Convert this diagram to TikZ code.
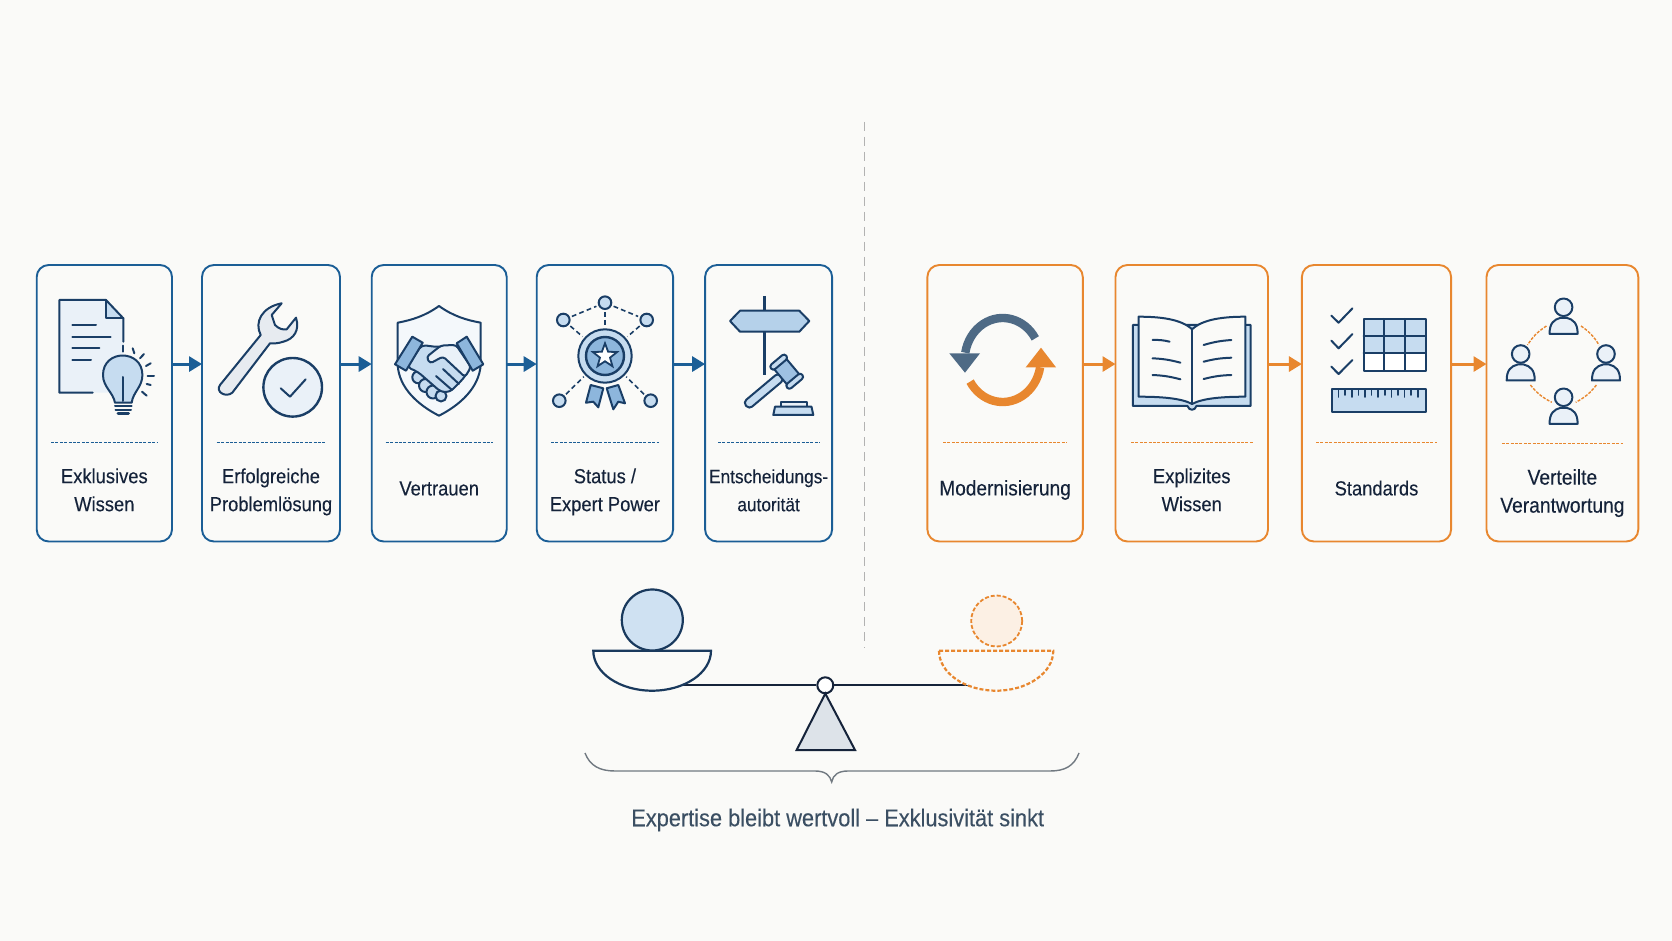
\documentclass[tikz,border=0pt]{standalone}
\usepackage{fontspec}
\setmainfont{Liberation Sans}[FakeStretch=0.9,FakeBold=0.2]
\usetikzlibrary{arrows.meta,positioning,shapes.geometric}
\definecolor{paper}{HTML}{FAFAF8}
\definecolor{blue}{HTML}{1B5E96}
\definecolor{navy}{HTML}{1A3E66}
\definecolor{ink}{HTML}{15233A}
\definecolor{orange}{HTML}{E8872F}
\definecolor{slate}{HTML}{4E6A85}
\definecolor{capt}{HTML}{3B4F63}
\definecolor{pale}{HTML}{EAF1F8}
\definecolor{soft}{HTML}{C6DCF0}
\definecolor{mid}{HTML}{8DB6DC}
\definecolor{peach}{HTML}{FCF0E4}
\definecolor{cone}{HTML}{DDE3E9}

\begin{document}
\begin{tikzpicture}[x=0.5pt,y=-0.5pt,
  every node/.style={align=center},
  bluebox/.style={draw=blue,line width=0.95pt,rounded corners=6pt,outer sep=0pt,
                  minimum height=138.25pt,anchor=north west},
  orgbox/.style={draw=orange,line width=0.95pt,rounded corners=6pt,outer sep=0pt,
                 minimum height=138.25pt,anchor=north west},
  lab/.style={text=ink,font=\fontsize{10.2}{14}\selectfont},
  bluearr/.style={-{Triangle[length=6.5pt,width=7.5pt]},line width=1.5pt,blue},
  orgarr/.style={-{Triangle[length=6.5pt,width=7.5pt]},line width=1.5pt,orange},
  bluerule/.style={blue,line width=0.55pt,dash pattern=on 1.5pt off 0.7pt},
  orgrule/.style={orange,line width=0.55pt,dash pattern=on 1.5pt off 0.7pt},
  ico/.style={navy,line width=1pt,line join=round,line cap=round},
  dot/.style={circle,draw=navy,line width=1pt,fill=soft,inner sep=0pt,minimum size=6.3pt},
  link/.style={navy,line width=0.8pt,dash pattern=on 2.4pt off 1.6pt,shorten >=1pt,shorten <=1pt},
  person/.pic={
    \draw[ico,fill=pale] (0,0) circle[radius=8.8];
    \draw[ico,fill=pale] (-14,26.5) .. controls (-14.2,16) and (-9.5,12) .. (-3,10.5) -- (3,10.5)
      .. controls (9.5,12) and (14.2,16) .. (14,26.5) -- cycle;
  }
]
\fill[paper] (0,0) rectangle (1672,941);
\useasboundingbox (0,0) rectangle (1672,941);

\node[bluebox,minimum width=67.65pt] (box1) at (36.7,265) {};
\node[bluebox,minimum width=69pt,right=15pt of box1.north east,anchor=north west] (box2) {};
\node[bluebox,minimum width=67.5pt,right=15.85pt of box2.north east,anchor=north west] (box3) {};
\node[bluebox,minimum width=68.2pt,right=15pt of box3.north east,anchor=north west] (box4) {};
\node[bluebox,minimum width=63.5pt,right=16pt of box4.north east,anchor=north west] (box5) {};
\node[orgbox,minimum width=77.7pt,right=47.65pt of box5.north east,anchor=north west] (box6) {};
\node[orgbox,minimum width=76.25pt,right=16.35pt of box6.north east,anchor=north west] (box7) {};
\node[orgbox,minimum width=74.6pt,right=16.95pt of box7.north east,anchor=north west] (box8) {};
\node[orgbox,minimum width=75.9pt,right=17.7pt of box8.north east,anchor=north west] (box9) {};

\draw[bluearr] ([yshift=19.6pt]box1.east)--([yshift=19.6pt]box2.west);
\draw[bluearr] ([yshift=19.6pt]box2.east)--([yshift=19.6pt]box3.west);
\draw[bluearr] ([yshift=19.6pt]box3.east)--([yshift=19.6pt]box4.west);
\draw[bluearr] ([yshift=19.6pt]box4.east)--([yshift=19.6pt]box5.west);
\draw[orgarr] ([yshift=19.6pt]box6.east)--([yshift=19.6pt]box7.west);
\draw[orgarr] ([yshift=19.6pt]box7.east)--([yshift=19.6pt]box8.west);
\draw[orgarr] ([yshift=19.6pt]box8.east)--([yshift=19.6pt]box9.west);

\draw[bluerule] (51,442.5)--(157.7,442.5);
\draw[bluerule] (216.7,442.5)--(326,442.5);
\draw[bluerule] (385.7,442.5)--(493,442.5);
\draw[bluerule] (551,442.5)--(659,442.5);
\draw[bluerule] (718,442.7)--(820,442.7);
\draw[orgrule] (943,442.5)--(1066.7,442.5);
\draw[orgrule] (1131,442.5)--(1252.9,442.5);
\draw[orgrule] (1316,442.5)--(1436.8,442.5);
\draw[orgrule] (1501.8,443.7)--(1623.2,443.7);

\node[lab] (lab1) at (box1 |- 0,491.6) {Exklusives\strut\\Wissen\strut};
\node[lab] (lab2) at (box2 |- 0,491.6) {Erfolgreiche\strut\\Problemlösung\strut};
\node[lab] (lab3) at (box3 |- 0,489.8) {Vertrauen\strut};
\node[lab] (lab4) at (box4 |- 0,491.6) {Status /\strut\\Expert Power\strut};
\node[lab,font=\fontsize{9.6}{14}\selectfont] (lab5) at (box5 |- 0,491.6) {Entscheidungs-\strut\\autorität\strut};
\node[lab,font=\fontsize{10.6}{14}\selectfont] (lab6) at (box6 |- 0,489.8) {Modernisierung\strut};
\node[lab] (lab7) at (box7 |- 0,491.6) {Explizites\strut\\Wissen\strut};
\node[lab] (lab8) at (box8 |- 0,489.8) {Standards\strut};
\node[lab,font=\fontsize{10.7}{14}\selectfont] (lab9) at (box9 |- 0,493) {Verteilte\strut\\Verantwortung\strut};

% document and bulb
\fill[pale] (59.3,300)--(106,300)--(123.3,318.3)--(123.3,392.7)--(59.3,392.7)--cycle;
\fill[soft] (106,300)--(123.3,318.3)--(106,318.3)--cycle;
\draw[ico] (92.7,392.7)--(59.3,392.7)--(59.3,300)--(106,300)--(123.3,318.3)--(123.3,341.7);
\draw[ico] (106,300)--(106,318.3)--(123.3,318.3);
\draw[ico] (72.3,325)--(96,325);
\draw[ico] (72.3,336.7)--(110.7,336.7);
\draw[ico] (72.3,348.3)--(99.3,348.3);
\draw[ico] (72.3,360)--(91,360);
\draw[ico,fill=soft] (115,402.7) .. controls (113,392) and (103,387) .. (103,375)
  .. controls (103,349) and (142.4,349) .. (142.4,375) .. controls (142.4,387) and (133,392) .. (131.7,402.7)--cycle;
\draw[ico] (123.3,377)--(123.3,401);
\draw[ico] (115,406)--(131.7,406);
\draw[ico] (115.5,410)--(131,410);
\draw[ico,line width=1.5pt] (118,414)--(128.5,414);
\draw[ico] (123.3,345.7)--(123.3,351.7);
\draw[ico] (132.7,348.3)--(134.3,353.3);
\draw[ico] (144,354)--(140,358.3);
\draw[ico] (150.7,363.3)--(146,366);
\draw[ico] (154,375.7)--(147.7,375.7);
\draw[ico] (150.7,385)--(146.7,384);
\draw[ico] (146.7,395.7)--(142,391.7);

% wrench
\draw[ico,fill=cone!70!white] (220,385)--(260.7,335) .. controls (254,322) and (262,307) .. (281.7,303.3)
  --(271.7,315)--(275,325) .. controls (279,329) and (283,330) .. (286.7,329.3)--(296,317.7)
  .. controls (300,330) and (294,339) .. (283.3,341.7) .. controls (278,343.5) and (274,343.5) .. (270,343.3)
  --(232.3,392.7) .. controls (226,398) and (215,392) .. (220,385)--cycle;
\node[circle,draw=navy,line width=1.2pt,fill=pale,inner sep=0pt,minimum size=29.3pt] (okring) at (292.7,387.3) {};
\draw[ico] (280.7,388.3)--(290,396.7)--(305.7,379.3);

% shield and handshake
\draw[ico,fill=pale!50!white] (439,306) .. controls (425,316) and (412,320) .. (397.7,322.7)--(397.7,365)
  .. controls (399,388) and (418,405) .. (439,415.7) .. controls (460,405) and (479,388) .. (480.7,365)
  --(480.7,322.7) .. controls (466,320) and (453,316) .. (439,306)--cycle;
\draw[ico,fill=soft] (418.3,377.3) circle[radius=6];
\draw[ico,fill=soft] (425.5,385.5) circle[radius=6.5];
\draw[ico,fill=soft] (433,392) circle[radius=6.5];
\draw[ico,fill=soft] (441,396) circle[radius=5.5];
\draw[ico,fill=soft,rounded corners=2pt] (421.7,345)--(437,347)--(456,345)--(471,367)--(463,379)--(450,392)--(441,392)--(418,372)--(407,367)--cycle;
\draw[ico,fill=pale,rounded corners=1.5pt] (456,345)--(441,345.5)--(426.5,357)--(430,363.5)--(443,356.5)--(465,377)--(471,367)--cycle;
\draw[ico] (459,384)--(443,369);
\draw[ico] (452,390)--(436,376);
\draw[ico,fill=mid] (412.3,336.7)--(422.7,342.7)--(406,370.7)--(395,364.3)--cycle;
\draw[ico,fill=mid] (466.7,336.7)--(456.7,343.3)--(472.7,370.7)--(483.3,364.3)--cycle;

% badge and network
\node[dot] (net1) at (605,302.7) {};
\node[dot] (net2) at (563.3,320) {};
\node[dot] (net3) at (646.7,320) {};
\node[dot] (net4) at (559.3,400.7) {};
\node[dot] (net5) at (650.7,400.7) {};
\draw[ico,fill=mid] (590.7,385)--(603.3,388.3)--(598.3,407.3)--(593.3,401.7)--(586,402.7)--cycle;
\draw[ico,fill=mid] (606.7,388.3)--(618.3,385)--(625,403.3)--(618.3,401.7)--(613.3,409.3)--cycle;
\node[circle,draw=navy,line width=1pt,fill=soft,inner sep=0pt,minimum size=26.7pt] (medal) at (605,356) {};
\node[circle,draw=navy,line width=1.2pt,fill=mid,inner sep=0pt,minimum size=19pt] at (medal) {};
\node[star,star points=5,star point ratio=2.4,draw=navy,line width=0.9pt,fill=white,inner sep=0pt,minimum size=12.7pt] at (medal) {};
\draw[link] (net2)--(net1);
\draw[link] (net1)--(net3);
\draw[link] (net1)--(medal);
\draw[link] (net2)--(medal);
\draw[link] (net3)--(medal);
\draw[link] (net4)--(medal);
\draw[link] (net5)--(medal);

% signpost and gavel
\draw[navy,line width=1.7pt] (764.7,296)--(764.7,375);
\draw[ico,fill=soft!70!mid] (730,321)--(740,310.7)--(799.3,310.7)--(809.3,321)--(799.3,331.7)--(740,331.7)--cycle;
\begin{scope}[shift={(786.7,371.7)},rotate=40]
  \draw[ico,fill=soft,rounded corners=2pt] (-53,-4.5) rectangle (-7,4.5);
  \draw[ico,fill=mid!70!soft] (-8,-11) rectangle (8,11);
  \draw[ico,fill=soft,rounded corners=1.5pt] (-10,-15.5) rectangle (10,-9.5);
  \draw[ico,fill=soft,rounded corners=1.5pt] (-10,9.5) rectangle (10,15.5);
\end{scope}
\draw[ico,fill=pale] (781,406.7)--(781,401.7)--(807.3,401.7)--(807.3,406.7);
\draw[ico,fill=soft] (773.3,415)--(775,406.7)--(811.5,406.7)--(813.3,415)--cycle;

% cycle arrows
\draw[slate,line width=4.2pt] (1002.7,360) ++(-31:38 and 42) arc[start angle=-31,end angle=-170,x radius=38,y radius=42];
\fill[slate] (949.3,353.3)--(980,353.3)--(965,372.7)--cycle;
\draw[orange,line width=4.2pt] (1002.7,360) ++(149:38 and 42) arc[start angle=149,end angle=10,x radius=38,y radius=42];
\fill[orange] (1025.7,367.3)--(1056,367.3)--(1041,347.7)--cycle;

% book
\draw[ico,fill=soft] (1132.9,325)--(1132.9,406)--(1187.5,406) .. controls (1189,411) and (1195,411) .. (1196.4,406)--(1250.7,406)--(1250.7,325)--cycle;
\draw[ico,fill=paper] (1192.1,329.3) .. controls (1181,319) and (1160,316.7) .. (1138.6,316.7)--(1138.6,396.7)
  .. controls (1160,396.7) and (1181,398) .. (1192.1,404) .. controls (1203,398) and (1224,396.7) .. (1245.4,396.7)
  --(1245.4,316.7) .. controls (1224,316.7) and (1203,319) .. (1192.1,329.3)--cycle;
\draw[ico] (1192.1,329.3)--(1192.1,404);
\draw[ico] (1152.5,340) to[bend left=8] (1169.6,341.7);
\draw[ico] (1152.5,358.3) to[bend left=6] (1180.4,362.7);
\draw[ico] (1152.5,375) to[bend left=6] (1180.4,379.3);
\draw[ico] (1203.6,345) to[bend left=6] (1231.4,340);
\draw[ico] (1203.6,361.7) to[bend left=6] (1231.4,357.7);
\draw[ico] (1203.6,379) to[bend left=6] (1231.4,375);

% checks, table and ruler
\draw[ico] (1331.4,315.7)--(1338.6,322.7)--(1352.5,308.3);
\draw[ico] (1331.4,340.7)--(1338.6,348.3)--(1352.5,334);
\draw[ico] (1331.4,366.7)--(1338.6,374)--(1352.5,360);
\fill[soft] (1363.6,319) rectangle (1425.7,353.5);
\fill[white] (1363.6,353.5) rectangle (1425.7,370.7);
\draw[ico] (1363.6,319) rectangle (1425.7,370.7);
\draw[ico] (1384.3,319)--(1384.3,370.7);
\draw[ico] (1405,319)--(1405,370.7);
\draw[ico] (1363.6,336.2)--(1425.7,336.2);
\draw[ico] (1363.6,353.5)--(1425.7,353.5);
\draw[ico,fill=soft] (1332.1,389.3) rectangle (1426,412.3);
\foreach \t in {1338.6,1351.8,1365,1378.2,1391.4,1404.6,1417.8}{
  \draw[ico,line width=0.8pt] (\t,389.3)--(\t,397);
}
\foreach \t in {1345.2,1358.4,1371.6,1384.8,1398,1411.2}{
  \draw[ico,line width=0.8pt] (\t,389.3)--(\t,395);
}

% people in a ring
\pic (top) at (1563.6,307.3) {person};
\pic (lft) at (1520.7,354) {person};
\pic (rgt) at (1606,354) {person};
\pic (bot) at (1563.6,397.3) {person};
\draw[orgrule,line width=0.7pt] (1546.4,326) to[bend right=12] (1527.5,345);
\draw[orgrule,line width=0.7pt] (1581,326) to[bend left=12] (1599,345);
\draw[orgrule,line width=0.7pt] (1530.4,385) to[bend left=-12] (1551.8,402.3);
\draw[orgrule,line width=0.7pt] (1596.4,385) to[bend left=12] (1575.7,402.3);

% divider
\coordinate (divtop) at (864.3,122);
\coordinate (divbot) at (864.3,648);
\draw[gray!60,line width=0.6pt,dash pattern=on 4.5pt off 3pt] (divtop)--(divbot);

% balance
\node[circle,draw=ink,line width=1pt,fill=white,inner sep=0pt,minimum size=8pt] (pivot) at (825.3,685.3) {};
\coordinate (beamL) at (682,685.3);
\coordinate (beamR) at (968,685.3);
\draw[ink,line width=1pt] (beamL)--(pivot);
\draw[ink,line width=1pt] (pivot)--(beamR);
\draw[navy!80!ink,line width=1.1pt,fill=paper] (593.3,650.7)--(711,650.7) arc[start angle=0,end angle=180,x radius=58.85,y radius=40]--cycle;
\draw[orange,line width=1.1pt,dash pattern=on 2pt off 1pt,fill=paper] (939,650.7)--(1053.3,650.7) arc[start angle=0,end angle=180,x radius=57.15,y radius=40]--cycle;
\node[circle,draw=navy!80!ink,line width=1.1pt,fill=soft!85!white,inner sep=0pt,minimum size=30.5pt] (ballL) at (652.3,620) {};
\node[circle,draw=orange,line width=0.9pt,dash pattern=on 2pt off 1pt,fill=peach,inner sep=0pt,minimum size=25.5pt] (ballR) at (996.7,621) {};
\draw[ink,line width=1pt,line join=miter,fill=cone] (825.3,693.5)--(855,750)--(796.7,750)--cycle;
\draw[gray!70!slate,line width=0.7pt] (585,753) .. controls (590,766) and (600,771) .. (615,771)--(815,771)
  .. controls (825,771) and (830,775) .. (831.7,782) .. controls (833,775) and (838,771) .. (848,771)
  --(1050,771) .. controls (1065,771) and (1074,766) .. (1079,753);
\node[text=capt,font=\fontsize{12.1}{14}\selectfont] (caption) at (837.7,820) {Expertise bleibt wertvoll – Exklusivität sinkt};
\end{tikzpicture}
\end{document}
